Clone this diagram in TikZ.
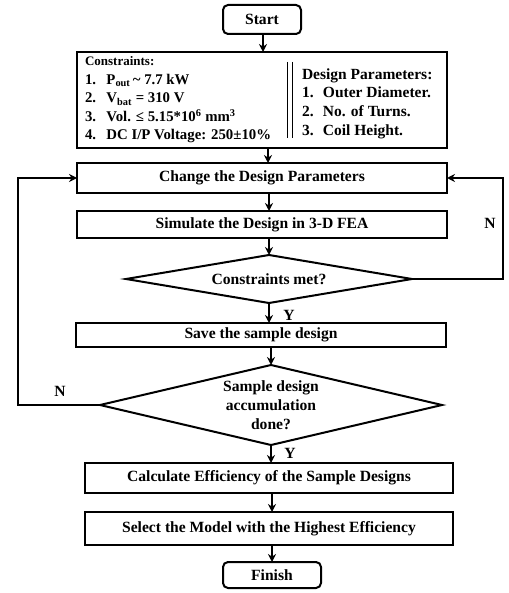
\documentclass[tikz,border=0pt]{standalone}
\usepackage{fontspec}
\setmainfont{Liberation Serif}
\usetikzlibrary{shapes.geometric,arrows.meta,calc}
\newcommand{\numL}[1]{\makebox[21.5pt][l]{#1}}
\newcommand{\numR}[1]{\makebox[21pt][l]{#1}}
\begin{document}
\begin{tikzpicture}[x=1pt,y=-1pt,
  every node/.style={inner sep=0pt, outer sep=0pt},
  box/.style={draw, line width=2pt, minimum width=370pt, font=\bfseries\fontsize{15.6}{18}\selectfont},
  term/.style={draw, rounded corners=5pt, line width=2pt, font=\bfseries\fontsize{15.6}{18}\selectfont},
  dec/.style={draw, diamond, line width=2pt, align=center, font=\bfseries\fontsize{15.6}{19}\selectfont},
  lbl/.style={font=\bfseries\fontsize{15.6}{18}\selectfont},
  small/.style={align=left, anchor=west, font=\bfseries\fontsize{14.8}{18.5}\selectfont},
  arr/.style={-{Stealth[length=8pt,width=8pt]}, line width=2pt}]
\useasboundingbox (0,0) rectangle (508,593);
% nodes
\node[term, minimum width=78pt, minimum height=29pt] (start) at (262,19.5) {Start};
\node[box, minimum height=96pt] (cons) at (262,100) {};
\node[small] (consL) at (85,100) {{\fontsize{13}{18.5}\selectfont Constraints:}\\
\numL{1.}P\textsubscript{out}\,\textasciitilde\ 7.7 kW\\
\numL{2.}V\textsubscript{bat} = 310 V\\
\numL{3.}Vol. ≤ 5.15*10\textsuperscript{6} mm\textsuperscript{3}\\
\numL{4.}DC I/P Voltage: 250±10\%};
\node[small, font=\bfseries\fontsize{15.5}{18.7}\selectfont] (consR) at (302,103.5) {Design Parameters:\\
\numR{1.}Outer Diameter.\\
\numR{2.}No. of Turns.\\
\numR{3.}Coil Height.};
\coordinate (sepT1) at (287,62); \coordinate (sepB1) at (287,138);
\coordinate (sepT2) at (292,62); \coordinate (sepB2) at (292,138);
\draw[line width=0.9pt] (sepT1) -- (sepB1) (sepT2) -- (sepB2);
\node[box, minimum height=30pt] (change) at (262,178) {Change the Design Parameters};
\node[box, minimum height=27pt] (sim) at (262,224.5) {Simulate the Design in 3-D FEA};
\node[dec, minimum width=286pt, minimum height=48pt, aspect=5.96] (d1) at (269,279) {Constraints met?};
\node[box, minimum height=24pt] (save) at (261,335) {Save the sample design};
\node[dec, minimum width=342pt, minimum height=80pt, aspect=4.3] (d2) at (271,405) {Sample design\\accumulation\\done?};
\node[box, minimum width=368pt, minimum height=30pt] (calc) at (269,478) {Calculate Efficiency of the Sample Designs};
\node[box, minimum width=368pt, minimum height=33pt] (sel) at (269,528.5) {Select the Model with the Highest Efficiency};
\node[term, minimum width=98pt, minimum height=26pt] (fin) at (272,575) {Finish};
% labels
\node[lbl] (n1) at (490,223) {N};
\node[lbl] (n2) at (60,391) {N};
\node[lbl] (y1) at (289,315) {Y};
\node[lbl] (y2) at (290,453) {Y};
% helper coordinates
\coordinate (m1) at (263,0);
\coordinate (m2) at (268,0);
\coordinate (m3) at (269,0);
\coordinate (m4) at (271,0);
\coordinate (m5) at (272,0);
\coordinate (R) at (503,178);
\coordinate (L) at (18,178);
% connectors
\draw[arr] (start.south -| m1) -- (cons.north -| m1);
\draw[arr] (cons.south -| m2) -- (change.north -| m2);
\draw[arr] (change.south -| m3) -- (sim.north -| m3);
\draw[arr] (sim.south -| m3) -- (d1.north);
\draw[arr] (d1.south) -- (save.north -| d1.south);
\draw[arr] (save.south -| m4) -- (d2.north);
\draw[arr] (d2.south) -- (calc.north -| d2.south);
\draw[arr] (calc.south -| m5) -- (sel.north -| m5);
\draw[arr] (sel.south -| m5) -- (fin.north -| m5);
\draw[arr] (d1.east) -| (R) -- (change.east);
\draw[arr] (d2.west) -| (L) -- (change.west);
\end{tikzpicture}
\end{document}
